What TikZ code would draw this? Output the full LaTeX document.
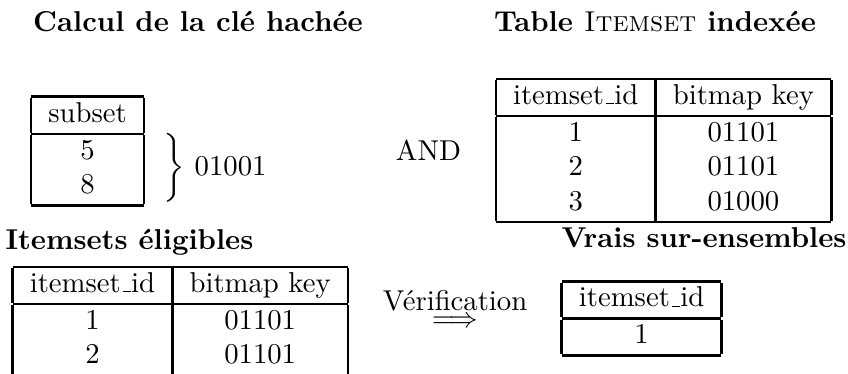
\documentclass[tikz,border=0pt]{standalone}
\usepackage{amsmath}
\usepackage{tikz}

\setlength{\arrayrulewidth}{0.9pt}
\newcommand{\undersc}{\leavevmode\kern.06em\vbox{\hrule width.3em}}

\tikzset{
  tab/.style={inner sep=0pt},
  titre/.style={font=\bfseries, anchor=base, inner sep=0pt}
}

\begin{document}
\begin{tikzpicture}

\clip (0,0) rectangle (10.38,4.566);

\node[titre] (tcle) at (2.424,4.186) {Calcul de la clé hachée};
\node[titre] (tindex) at (8.018,4.186) {Table \textmd{\textsc{Itemset}} indexée};

\node[tab] (subset) at (1.071,2.717) {\begin{tabular}{|c|}\hline subset\\ \hline 5\\ 8\\ \hline\end{tabular}};
\node[tab,anchor=west] (cle) at (1.954,2.509) {$\left.\vphantom{\begin{array}{c}5\\8\end{array}}\right\}$ 01001};

\node (et) at (5.245,2.73) {AND};

\node[tab] (index) at (8.122,2.724) {\begin{tabular}{|c|c|}\hline itemset\undersc id & bitmap key\\ \hline 1 & 01101\\ 2 & 01101\\ 3 & 01000\\ \hline\end{tabular}};

\node[titre,anchor=base west] (telig) at (0.061,1.506) {Itemsets éligibles};
\node[tab,anchor=north west] (elig) at (0.147,1.322) {\begin{tabular}{|c|c|}\hline itemset\undersc id & bitmap key\\ \hline 1 & 01101\\ 2 & 01101\\ & \\ \end{tabular}};

\node[anchor=base] (verif) at (5.570,0.563) {$\stackrel{\mbox{Vérification}}{\Longrightarrow}$};

\node[titre,anchor=base east] (tvrais) at (10.368,1.542) {Vrais sur-ensembles};
\node[tab] (vrais) at (7.853,0.667) {\begin{tabular}{|c|}\hline itemset\undersc id\\ \hline 1\\ \hline\end{tabular}};

\end{tikzpicture}
\end{document}
